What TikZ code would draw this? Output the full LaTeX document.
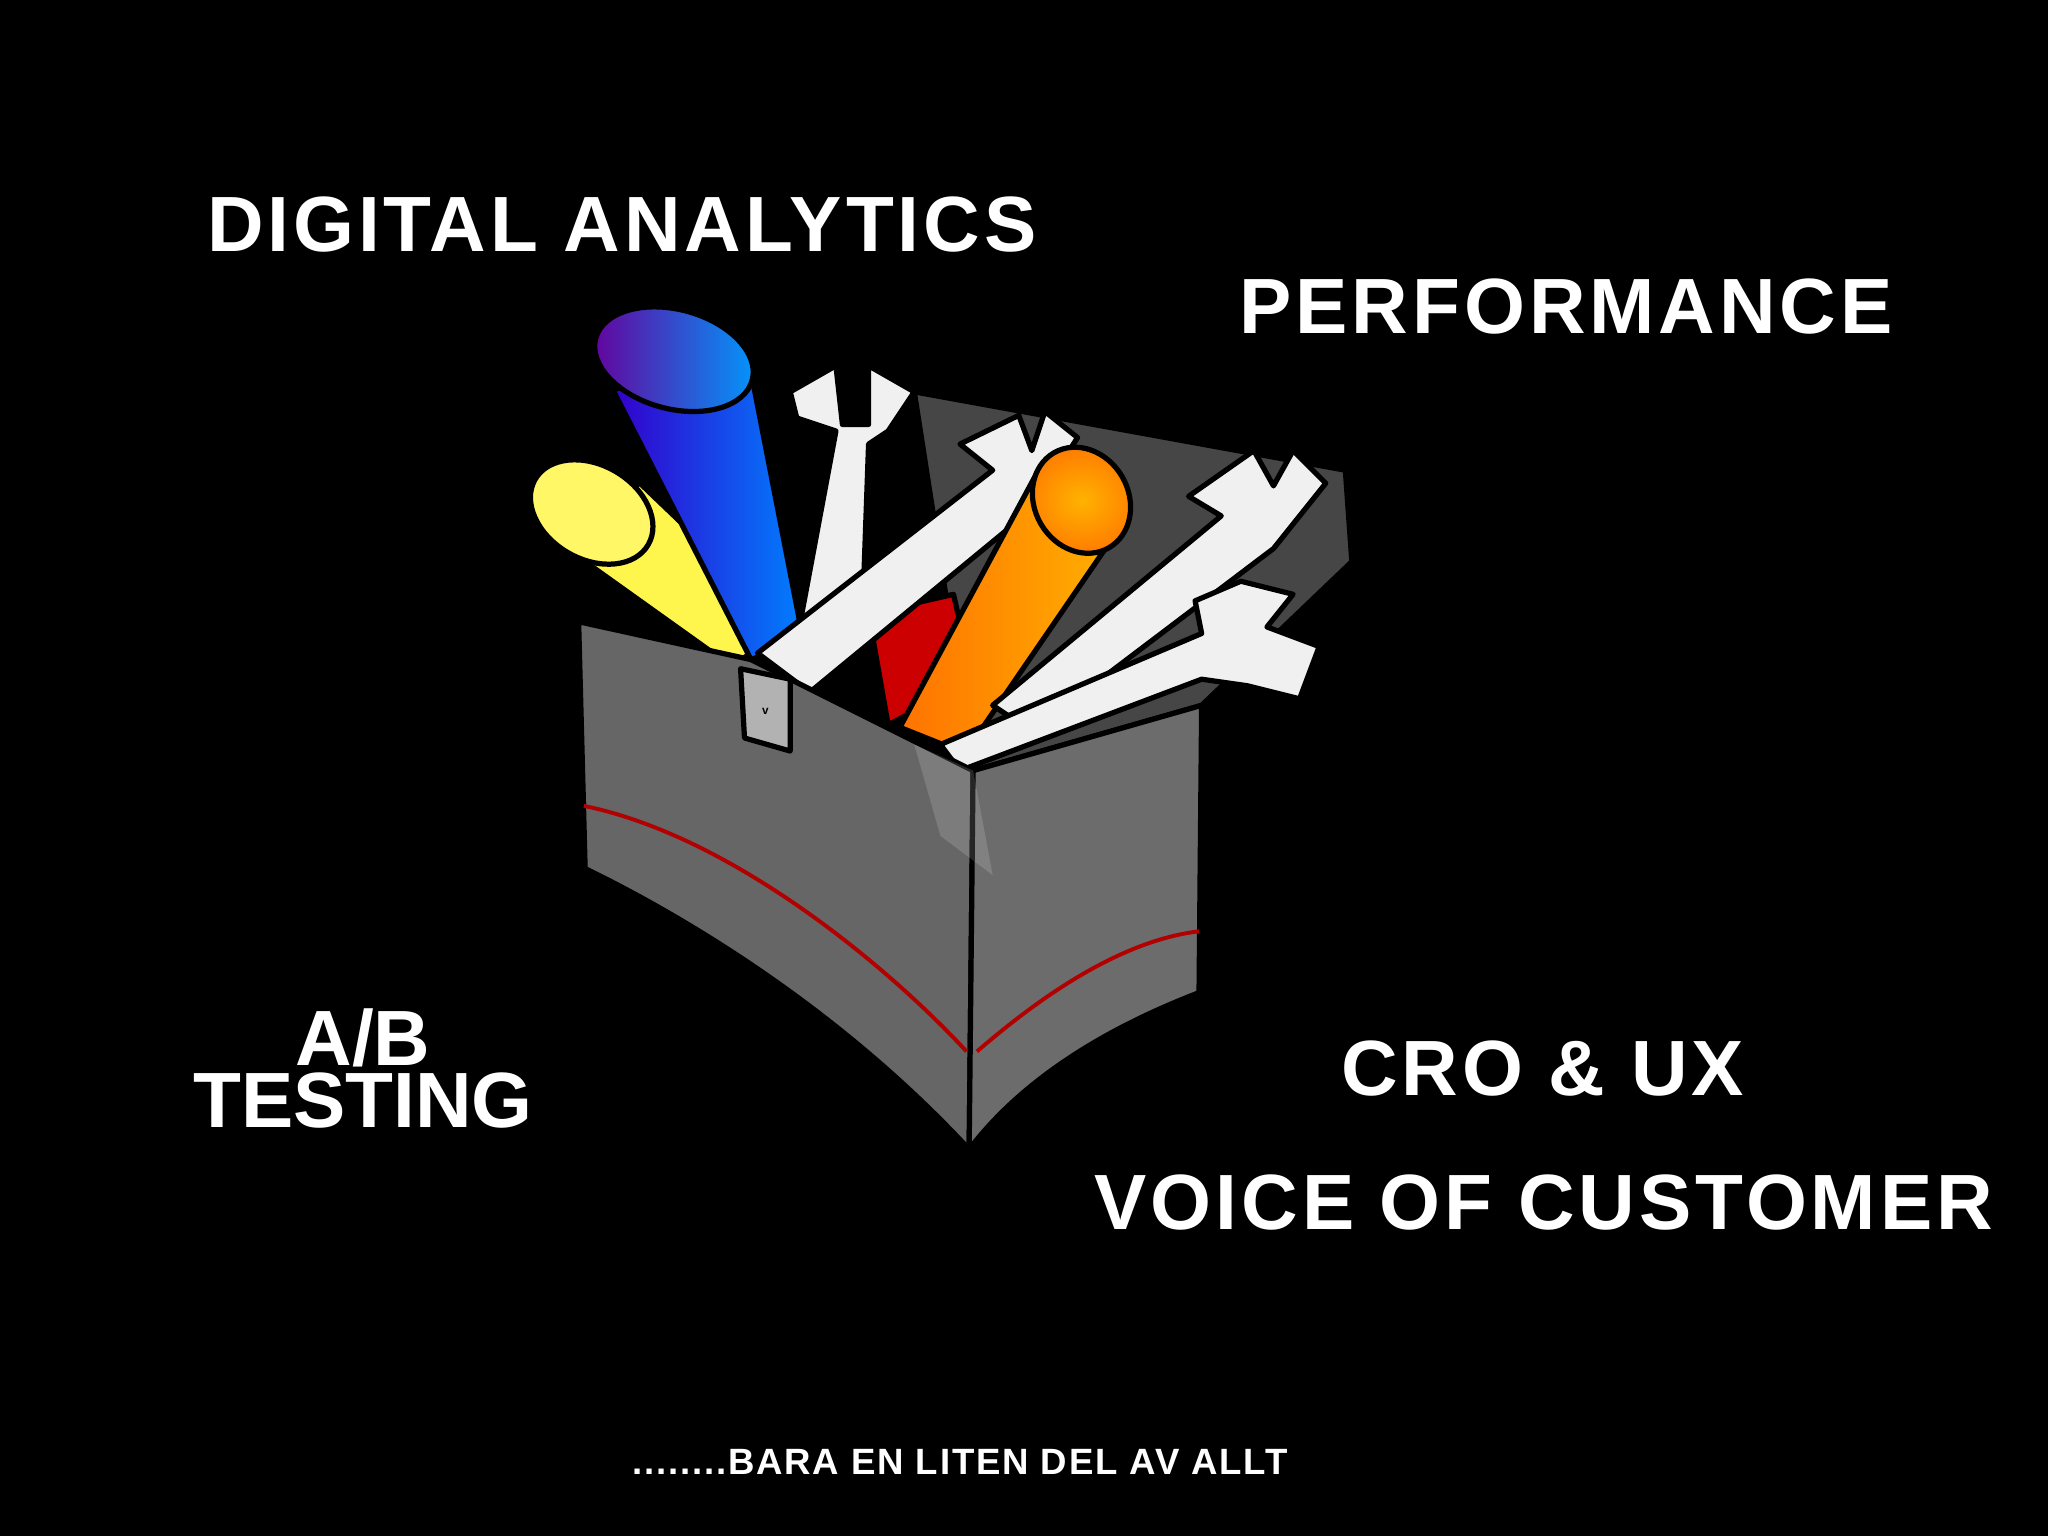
\documentclass[tikz,border=0pt]{standalone}
\usepackage{fontspec}
\setmainfont{Liberation Sans}
\begin{document}
\begin{tikzpicture}[x=1pt,y=-1pt,
  lbl/.style={text=white,font=\fontsize{60}{62}\selectfont\bfseries\addfontfeature{LetterSpace=5}},
  ol/.style={draw=black,line width=4pt,line join=round},
  wrench/.style={ol,fill=white!88!gray}]
\fill[black] (0,0) rectangle (1568,1176);
% back wall
\fill[ol,fill=gray!55!black] (700,300) -- (1030,360) -- (1035,430) -- (920,540) -- (745,590) -- cycle;
% red item
\fill[ol,fill=red!80!black] (665,470) -- (730,455) -- (745,520) -- (680,555) -- cycle;
% yellow cylinder
\fill[ol,fill=yellow!70!white] (420,410) -- (560,510) -- (605,480) -- (490,370) -- cycle;
\fill[ol,fill=yellow!60!white,rotate around={-30:(453,392)}] (453,392) ellipse (50 and 36);
% blue cylinder
\shade[left color=blue!60!violet,right color=cyan!50!blue] (470,300) -- (575,505) -- (615,490) -- (575,285) -- cycle;
\draw[ol] (470,300) -- (575,505) -- (615,490) -- (575,285);
\shade[left color=violet!80!blue,right color=blue!40!cyan,rotate around={-15:(516,275)}] (516,275) ellipse (62 and 38);
\draw[ol,rotate around={-15:(516,275)}] (516,275) ellipse (62 and 38);
% wrench 1 (vertical)
\fill[wrench] (612,480) -- (640,330) -- (610,320) -- (605,300) -- (640,280) -- (645,325) -- (665,325) -- (665,280) -- (700,300) -- (680,330) -- (665,340) -- (660,480) -- cycle;
% wrench 2
\fill[wrench] (580,500) -- (760,360) -- (735,340) -- (780,318) -- (790,345) -- (800,315) -- (825,335) -- (790,390) -- (620,530) -- cycle;
% orange cylinder
\shade[left color=orange!90!red,right color=orange!60!yellow] (690,555) -- (795,360) -- (860,400) -- (740,575) -- cycle;
\draw[ol] (690,555) -- (795,360) -- (860,400) -- (740,575);
\shade[inner color=orange!60!yellow,outer color=orange,rotate around={-60:(828,383)}] (828,383) ellipse (42 and 36);
\draw[ol,rotate around={-60:(828,383)}] (828,383) ellipse (42 and 36);
% wrench 3
\fill[wrench] (760,540) -- (935,395) -- (910,380) -- (960,345) -- (975,372) -- (990,345) -- (1015,370) -- (975,420) -- (790,560) -- cycle;
% wrench 4
\fill[wrench] (720,570) -- (920,485) -- (915,460) -- (950,445) -- (990,455) -- (970,480) -- (1010,495) -- (995,535) -- (955,525) -- (920,520) -- (735,590) -- cycle;
% box front faces
\fill[ol,fill=gray!80!black] (443,476) -- (575,505) -- (745,590) -- (742,880) .. controls (640,770) and (520,700) .. (448,665) -- cycle;
\fill[ol,fill=gray!85!black] (745,590) -- (920,540) -- (918,760) .. controls (840,790) and (780,830) .. (742,880) -- cycle;
\fill[white,opacity=0.15] (700,570) -- (745,590) -- (760,670) -- (720,640) -- cycle;
% red stripes
\draw[red!70!black,line width=3pt] (447,617) .. controls (560,640) and (680,740) .. (740,805);
\draw[red!70!black,line width=3pt] (748,805) .. controls (800,760) and (860,720) .. (918,713);
% latch
\fill[ol,fill=gray!60] (567,512) -- (605,520) -- (605,575) -- (570,565) -- cycle;
\node[font=\small] (latch) at (586,545) {\textbf{v}};
% texts
\node[lbl] (da) at (476,172) {DIGITAL ANALYTICS};
\node[lbl] (pf) at (1199,235) {PERFORMANCE};
\node[lbl,align=center,font=\fontsize{60}{48}\selectfont\bfseries] (ab) at (278,818) {A/B\\TESTING};
\node[lbl] (cro) at (1181,818) {CRO \& UX};
\node[lbl] (voc) at (1182,921) {VOICE OF CUSTOMER};
\node[text=white,font=\fontsize{28}{30}\selectfont\bfseries\addfontfeature{LetterSpace=5}] (bara) at (735,1119) {........BARA EN LITEN DEL AV ALLT};
\end{tikzpicture}
\end{document}
